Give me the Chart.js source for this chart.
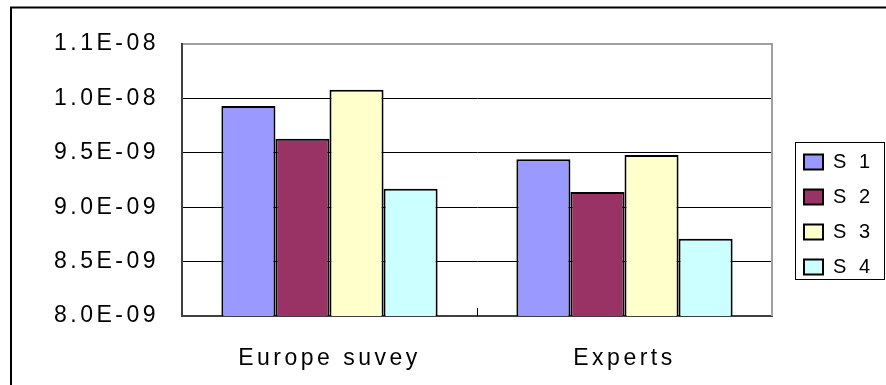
<!DOCTYPE html>
<html>
<head>
<meta charset="utf-8">
<script src="https://cdn.jsdelivr.net/npm/chart.js@4/dist/chart.umd.min.js"></script>
<style>
  html, body { margin: 0; padding: 0; background: #fff; }
  canvas { display: block; }
</style>
</head>
<body>
<canvas id="c" width="886" height="385"></canvas>
<script>
// ---- data ----
const categories = ['Europe suvey', 'Experts'];
const seriesNames = ['S1', 'S2', 'S3', 'S4'];
const legendLabels = ['S 1', 'S 2', 'S 3', 'S 4'];
const s1 = [9.93e-9, 9.44e-9];
const s2 = [9.63e-9, 9.14e-9];
const s3 = [10.08e-9, 9.48e-9];
const s4 = [9.17e-9, 8.71e-9];
const yTickValues = [8.0e-9, 8.5e-9, 9.0e-9, 9.5e-9, 1.0e-8, 1.05e-8];
const yTickLabels = ['8.0E-09', '8.5E-09', '9.0E-09', '9.5E-09', '1.0E-08', '1.1E-08'];
const colors = ['#9999FF', '#993366', '#FFFFCC', '#CCFFFF'];

const FONT = "'Liberation Sans', Arial, sans-serif";
const LS = '3.5px';
const LEGEND_W = 114;
const LEGEND_SHIFT = 17;

const decor = {
  id: 'decor',
  afterInit(chart) {
    const lg = chart.legend;
    if (lg) {
      const orig = lg.fit;
      lg.fit = function () {
        orig.call(this);
        if (!this.isHorizontal()) this.width = LEGEND_W;
      };
    }
  },
  beforeUpdate(chart) { chart.ctx.letterSpacing = LS; },
  beforeLayout(chart) { chart.ctx.letterSpacing = LS; },
  afterLayout(chart) {
    const lg = chart.legend;
    if (lg) { lg.left += LEGEND_SHIFT; lg.right += LEGEND_SHIFT; }
  },
  beforeDraw(chart) {
    const ctx = chart.ctx;
    ctx.letterSpacing = LS;
    ctx.save();
    ctx.strokeStyle = '#000';
    ctx.lineWidth = 2;
    ctx.strokeRect(11, 7.5, 1000, 1000);
    ctx.restore();
  },
  afterDraw(chart) {
    const ctx = chart.ctx;
    const a = chart.chartArea;
    const x = chart.scales.x;
    ctx.save();
    ctx.strokeStyle = '#a0a0a0';
    ctx.lineWidth = 2;
    ctx.beginPath();
    ctx.moveTo(a.right, a.top - 1);
    ctx.lineTo(a.right, a.bottom);
    ctx.stroke();
    ctx.strokeStyle = '#000';
    ctx.lineWidth = 1;
    const mx = Math.round((x.getPixelForValue(0) + x.getPixelForValue(1)) / 2) + 0.5;
    ctx.beginPath();
    ctx.moveTo(mx, a.bottom - 8);
    ctx.lineTo(mx, a.bottom);
    ctx.stroke();
    const lg = chart.legend;
    if (lg) {
      const pad = lg.options.labels.padding;
      const colH = lg.columnSizes && lg.columnSizes[0] ? lg.columnSizes[0].height : 136;
      const y0 = (lg.top + pad + lg.bottom - colH) / 2;
      ctx.strokeStyle = '#000';
      ctx.lineWidth = 1;
      ctx.strokeRect(Math.round(lg.left + 6) + 0.5, Math.round(y0 - 10) + 0.5, 89, 137);
    }
    ctx.restore();
  }
};

const datasets = [s1, s2, s3, s4].map((d, i) => ({
  label: legendLabels[i],
  data: d,
  backgroundColor: colors[i],
  borderColor: '#000',
  borderWidth: 2,
  categoryPercentage: 0.733,
  barPercentage: 1.0
}));

new Chart(document.getElementById('c'), {
  type: 'bar',
  data: { labels: categories, datasets },
  plugins: [decor],
  options: {
    responsive: false,
    animation: false,
    devicePixelRatio: 1,
    layout: { padding: { left: 20, top: 44, right: 0, bottom: 0 } },
    plugins: {
      tooltip: { enabled: false },
      legend: {
        position: 'right',
        labels: {
          boxWidth: 19,
          boxHeight: 15,
          padding: 15,
          color: '#000',
          font: { family: FONT, size: 20 }
        }
      }
    },
    scales: {
      x: {
        grid: { display: false },
        border: { display: true, color: '#404040', width: 2 },
        ticks: { color: '#000', padding: 21, font: { family: FONT, size: 23 } },
        afterFit(scale) { scale.height = 69; }
      },
      y: {
        min: 8.0e-9,
        max: 1.05e-8,
        afterBuildTicks(scale) {
          scale.ticks = yTickValues.map(v => ({ value: v }));
        },
        grid: {
          drawTicks: false,
          color: (c) => (c.index === yTickValues.length - 1 ? '#a0a0a0' : '#000'),
          lineWidth: (c) => (c.index === yTickValues.length - 1 ? 2 : 1)
        },
        border: { display: true, color: '#404040', width: 2 },
        ticks: {
          color: '#000',
          padding: 23,
          font: { family: FONT, size: 23 },
          callback: (v, i) => yTickLabels[i]
        },
        afterFit(scale) { scale.width = 162; }
      }
    }
  }
});
</script>
</body>
</html>
